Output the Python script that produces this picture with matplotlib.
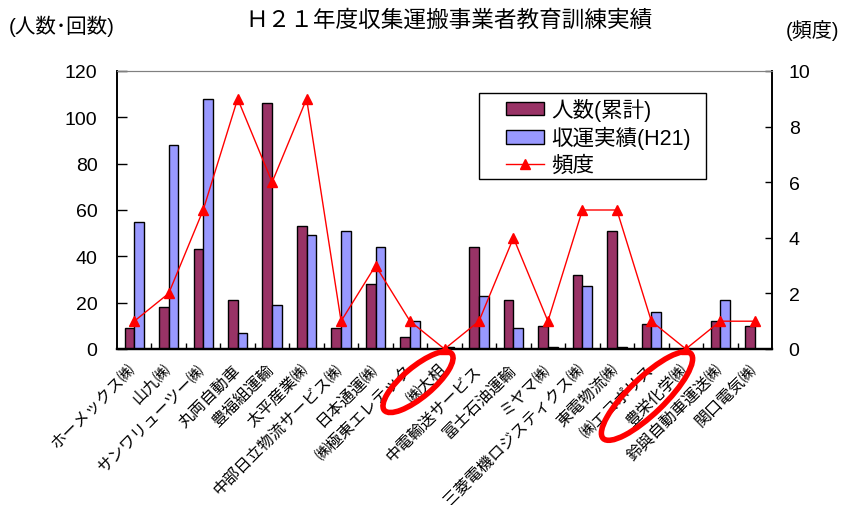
import numpy as np
import matplotlib
matplotlib.use('Agg')
import matplotlib.pyplot as plt
from matplotlib.patches import Ellipse, Rectangle
from matplotlib.transforms import IdentityTransform

plt.rcParams['font.family'] = ['Liberation Sans', 'Noto Sans CJK JP', 'DejaVu Sans']

#Data
companies = ['ホーメックス㈱', '山九㈱', 'サンワリューツー㈱', '丸両自動車', '豊福組運輸',
             '太平産業㈱', '中部日立物流サービス㈱', '日本通運㈱', '㈱極東エレテック', '㈱大相',
             '中電輸送サービス', '富士石油運輸', 'ミヤマ㈱', '三菱電機ロジスティクス㈱', '東電物流㈱',
             '㈱エコポリス', '豊栄化学㈱', '鈴與自動車運送㈱', '関口電気㈱']
ninzu = [9, 18, 43, 21, 106, 53, 9, 28, 5, 0, 44, 21, 10, 32, 51, 11, 0, 12, 10]
jisseki = [55, 88, 108, 7, 19, 49, 51, 44, 12, 1, 23, 9, 1, 27, 1, 16, 0, 21, 0]
hindo = [1, 2, 5, 9, 6, 9, 1, 3, 1, 0, 1, 4, 1, 5, 5, 1, 0, 1, 1]

maroon = '#993366'
lilac = '#9999ff'

fig = plt.figure(figsize=(8.56, 5.06), dpi=100)
ax = fig.add_axes([117/856, 1-350/506, 655/856, 278/506])
ax2 = ax.twinx()

x = np.arange(len(companies))
w = 0.28
b1 = ax.bar(x - w/2, ninzu, w, color=maroon, edgecolor='black', linewidth=1, label='人数(累計)', zorder=2)
b2 = ax.bar(x + w/2, jisseki, w, color=lilac, edgecolor='black', linewidth=1, label='収運実績(H21)', zorder=2)
l1, = ax2.plot(x, hindo, '-^', color='red', linewidth=1, markersize=7, label='頻度', clip_on=False, zorder=5)

ax.set_xlim(-0.5, len(companies) - 0.5)
ax.set_ylim(0, 120)
ax.set_yticks(range(0, 121, 20))
ax2.set_ylim(0, 10)
ax2.set_yticks(range(0, 11, 2))

ax.set_xticks(x)
ax.set_xticklabels(companies, rotation=45, ha='right', va='center', rotation_mode='anchor', fontsize=11.5)
ax.tick_params(axis='x', which='major', length=0, pad=13)
ax.set_xticks(np.arange(0.5, len(companies) - 1, 1), minor=True)
ax.tick_params(axis='x', which='minor', direction='in', length=4, width=1)
ax.tick_params(axis='y', direction='in', length=7, width=1, labelsize=14, pad=14)
ax2.tick_params(axis='y', direction='in', length=5, width=1, labelsize=14, pad=12)

for a in (ax, ax2):
    a.spines['top'].set_color('#808080')
    a.spines['bottom'].set_linewidth(1.6)
    a.spines['left'].set_linewidth(1.2)
    a.spines['right'].set_linewidth(1.2)

fig.text(0.525, 0.96, 'Ｈ２１年度収集運搬事業者教育訓練実績', ha='center', va='center', fontsize=16.3)
fig.text(0.010, 0.948, '(人数･回数)', ha='left', va='center', fontsize=14.8)
fig.text(0.918, 0.94, '(頻度)', ha='left', va='center', fontsize=14.5)

#legend box drawn separately (wide side padding like the original)
ax2.add_patch(Rectangle((0.5527, 0.6115), 0.3466, 0.3094, transform=ax2.transAxes,
                        facecolor='white', edgecolor='black', linewidth=1, zorder=6))
leg = ax2.legend([b1, b2, l1], ['人数(累計)', '収運実績(H21)', '頻度'],
                 loc='upper left', bbox_to_anchor=(0.594, 0.903), fontsize=15.5,
                 frameon=False, handlelength=1.75, borderaxespad=0, borderpad=0,
                 handleheight=0.6, handletextpad=0.35, labelspacing=0.25)
leg.set_zorder(7)

#red circles marking two companies
for cx, cy, ew, eh, ang in [(418, 383, 88, 30, 40), (647, 397, 122, 36, 44)]:
    fig.patches.append(Ellipse((cx, 506 - cy), ew, eh, angle=ang, fill=False,
                               edgecolor='red', linewidth=4, transform=IdentityTransform(),
                               figure=fig, zorder=10))

fig.savefig('out.png', dpi=100)
